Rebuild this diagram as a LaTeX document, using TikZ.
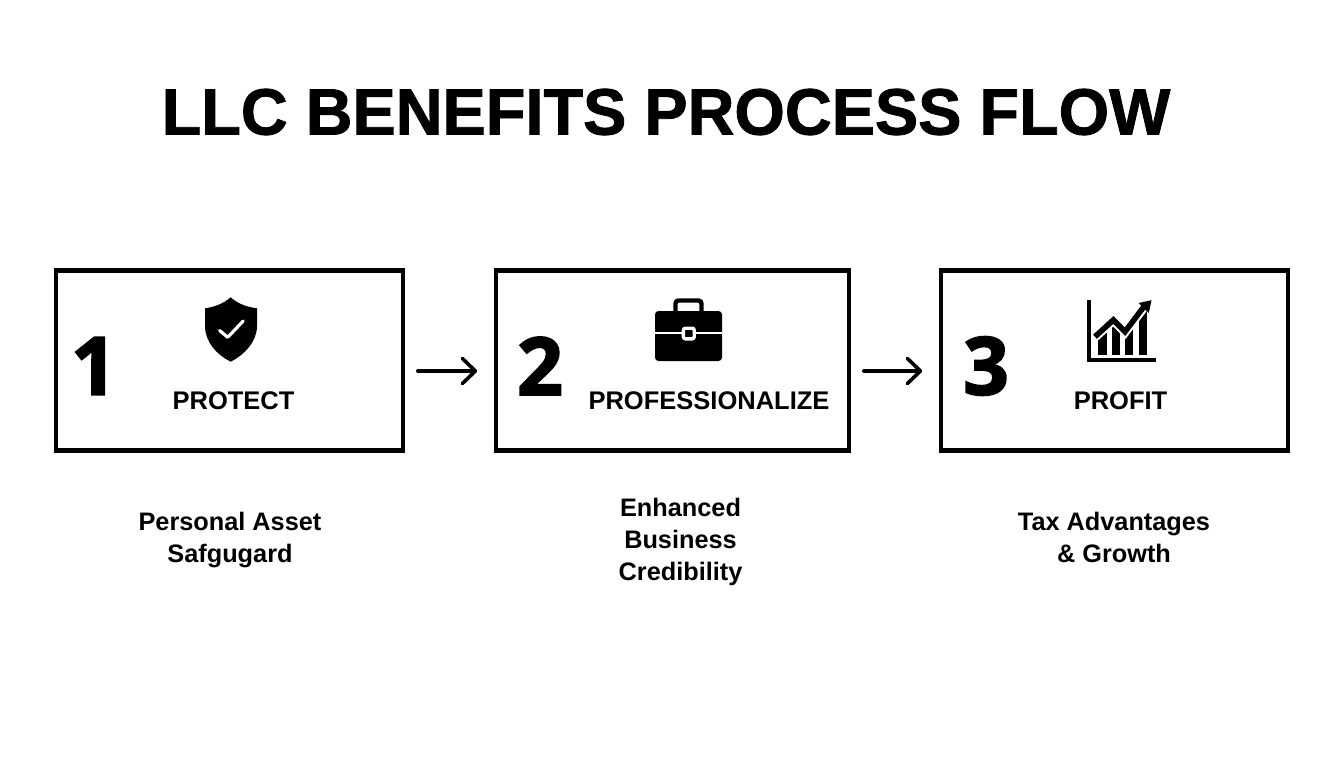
\documentclass[tikz,border=0pt]{standalone}
\usepackage{fontspec}
\setmainfont{Liberation Sans}
\newfontfamily\heavyfont[BoldFeatures={FakeBold=1.3,FakeStretch=0.99}]{Liberation Sans}
\newfontfamily\digitfont[BoldFeatures={FakeBold=2.4}]{Open Sans}
\usetikzlibrary{arrows.meta}

\begin{document}
\begin{tikzpicture}[x=1pt,y=-1pt]
  \tikzset{BoxStyle/.style = {
    shape         = rectangle,
    draw          = black,
    fill          = white,
    line width    = 4.4pt,
    inner sep     = 0pt,
    outer sep     = 0pt,
    minimum height = 180pt
    }
  }
  \tikzset{EdgeStyle/.style = {
    draw          = black,
    line width    = 3.6pt,
    line cap      = round,
    shorten <     = 15pt,
    shorten >     = 19pt,
    -{Straight Barb[length=13pt,width=25pt,round]}
    }
  }
  \tikzset{TitleStyle/.style = {
    font          = \heavyfont\bfseries\fontsize{65.5}{72}\selectfont,
    text          = black,
    inner sep     = 0pt
    }
  }
  \tikzset{NumberStyle/.style = {
    font          = \digitfont\bfseries\fontsize{80}{90}\selectfont,
    text          = black,
    inner sep     = 0pt
    }
  }
  \tikzset{NameStyle/.style = {
    font          = \bfseries\fontsize{25.5}{30}\selectfont,
    text          = black,
    inner sep     = 0pt
    }
  }
  \tikzset{CaptionStyle/.style = {
    font          = \bfseries\fontsize{25.3}{32}\selectfont,
    align         = center,
    text          = black,
    inner sep     = 0pt
    }
  }

	\useasboundingbox[fill=white] (0,0) rectangle (1344,768);

	\node[TitleStyle](Title) at (666,112) {LLC BENEFITS PROCESS FLOW};

	\node[BoxStyle, minimum width=346.6pt](Box1) at (229.5,360.3) {};
	\node[BoxStyle, minimum width=352.6pt](Box2) at (672.5,360.3) {};
	\node[BoxStyle, minimum width=346.6pt](Box3) at (1114.5,360.3) {};

	\draw[EdgeStyle] ([yshift=-10.7pt]Box1.east) -- ([yshift=-10.7pt]Box2.west);
	\draw[EdgeStyle] ([yshift=-10.7pt]Box2.east) -- ([yshift=-10.7pt]Box3.west);

	\node[NumberStyle](Num1) at (94,366) {1};
	\node[NumberStyle](Num2) at (540,366) {2};
	\node[NumberStyle](Num3) at (986,366) {3};

	\node[NameStyle](Name1) at (233.5,400.5) {PROTECT};
	\node[NameStyle](Name2) at (709,400.5) {PROFESSIONALIZE};
	\node[NameStyle](Name3) at (1120.5,400.5) {PROFIT};

	\node[CaptionStyle](Text1) at (230,540) {Personal Asset\\Safgugard};
	\node[CaptionStyle](Text2) at (680.5,542) {Enhanced\\Business\\Credibility};
	\node[CaptionStyle](Text3) at (1114,537) {Tax Advantages\\\& Growth};

	% shield
	\fill (230.7,297.3) .. controls (223,304) and (214,307) .. (205,308.3)
	  -- (205,326) .. controls (205,342) and (217,355) .. (230.7,361.7)
	  .. controls (244,355) and (257,342) .. (257,326)
	  -- (257,308.3) .. controls (247,307) and (238,304) .. (230.7,297.3) -- cycle;
	\draw[white, line width=3.2pt, line cap=round, line join=round]
	  (219.6,330.5) -- (227.7,337.3) -- (243.3,320.9);

	% briefcase
	\draw[line width=4.4pt, rounded corners=3pt] (675.5,312) -- (675.5,300.5) -- (701.5,300.5) -- (701.5,312);
	\fill[rounded corners=3.5pt] (655,311) rectangle (722,361);
	\draw[white, line width=2.4pt] (655,333) -- (722,333);
	\draw[white, fill=black, line width=3.4pt, rounded corners=2pt] (683.4,328.2) rectangle (694.2,338.8);

	% chart
	\fill (1098.3,333) rectangle (1106.7,355);
	\fill (1111.7,324) rectangle (1120,355);
	\fill (1125,326) rectangle (1133.3,355);
	\fill (1139,310) rectangle (1147.3,355);
	\draw[white, line width=9.6pt, line join=miter] (1093,338.5) -- (1113.3,320) -- (1125,331.7) -- (1146,304);
	\draw[line width=5.6pt, line join=miter] (1095,336.7) -- (1113.3,320) -- (1125,331.7) -- (1144,306.5);
	\fill (1151.5,300.2) -- (1138.5,303) -- (1148.8,313) -- cycle;
	\draw[line width=3.8pt] (1088.6,300) -- (1088.6,359.8) -- (1156,359.8);
\end{tikzpicture}
\end{document}
